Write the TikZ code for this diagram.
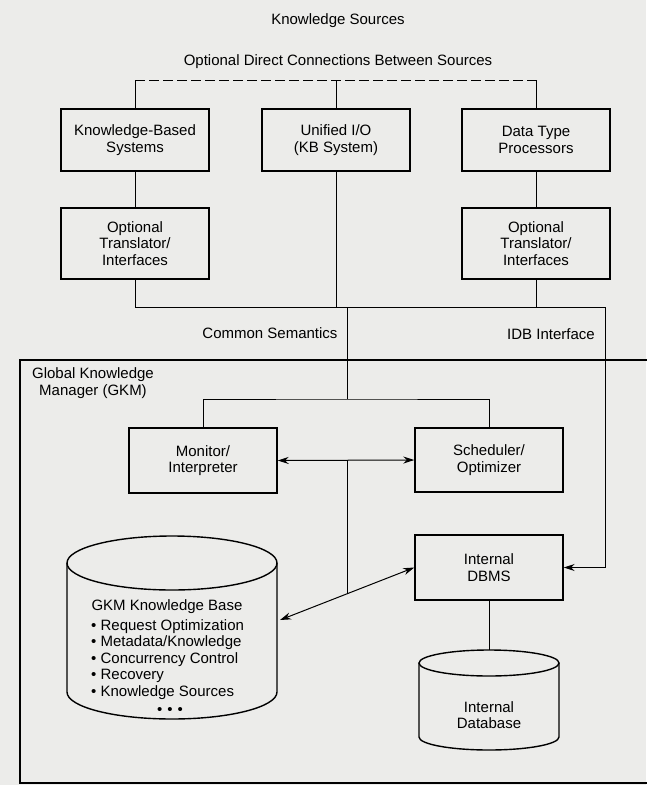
\documentclass[tikz,border=0pt]{standalone}
\usepackage{fontspec}
\setmainfont{Liberation Sans}
\usepackage{xcolor}
\usepackage{tikz}
\usetikzlibrary{positioning,calc,arrows.meta}

\definecolor{paper}{RGB}{236,236,234}

\begin{document}
\begin{tikzpicture}[x=1pt, y=-1pt,
    box/.style={draw, line width=1.4pt, minimum width=148pt, inner sep=0pt, align=center, font=\fontsize{15}{16.5}\selectfont},
    lbl/.style={align=center, inner sep=0pt, font=\fontsize{15}{16.5}\selectfont},
    rim/.style={line width=1.4pt},
    link/.style={line width=1pt},
    arrow/.style={{Stealth[length=11pt,width=7pt]}-{Stealth[length=11pt,width=7pt]}, line width=1pt}
]
\fill[paper] (0,0) rectangle (646,785);
\useasboundingbox (0,0) rectangle (646,785);

% knowledge sources
\node[lbl] (ks)   at (338,21)  {Knowledge Sources};
\node[lbl] (odc)  at (338,62)  {Optional Direct Connections Between Sources};
\node[box, minimum height=62pt] (kbs) at (135,140) {Knowledge-Based\\Systems};
\node[box, minimum height=62pt] (uio) at (336,140) {Unified I/O\\(KB System)};
\node[box, minimum height=62pt] (dtp) at (536,140) {Data Type\\Processors};
\node[box, minimum height=71pt] (trl) at (135,243.5) {Optional\\Translator/\\Interfaces};
\node[box, minimum height=71pt] (trr) at (536,243.5) {Optional\\Translator/\\Interfaces};
\node[lbl] (cs)   at (270,333) {Common Semantics};
\node[lbl] (idb)  at (551,334) {IDB Interface};

% global knowledge manager
\draw[rim] (650,360) -- (20,360) -- (20,783) -- (650,783);
\node[lbl] (gkm)  at (93,383)  {Global Knowledge\\Manager (GKM)};
\node[box, minimum height=65pt] (mon)  at (203,460.5) {Monitor/\\Interpreter};
\node[box, minimum height=64pt] (sch)  at (489,460)   {Scheduler/\\Optimizer};
\node[box, minimum height=65pt] (dbms) at (489,567.5) {Internal\\DBMS};

% GKM knowledge base cylinder
\draw[rim] (172,563) ellipse [x radius=105, y radius=27];
\draw[rim] (67,563) -- (67,692) arc[start angle=180, end angle=0, x radius=105, y radius=27] -- (277,563);
\node[lbl] (kbtitle) at (167,607) {GKM Knowledge Base};
\node[lbl, align=left, anchor=north west] (kblist) at (91,619)
  {\textbullet\ Request Optimization\\\textbullet\ Metadata/Knowledge\\\textbullet\ Concurrency Control\\\textbullet\ Recovery\\\textbullet\ Knowledge Sources};
\node[lbl] (kbdots) at (170,711) {\textbullet\hspace{5pt}\textbullet\hspace{5pt}\textbullet};

% internal database cylinder
\draw[rim] (489,663) ellipse [x radius=70, y radius=13];
\draw[rim] (419,663) -- (419,737) arc[start angle=180, end angle=0, x radius=70, y radius=13] -- (559,663);
\node[lbl] (idbase) at (489,715) {Internal\\Database};

% connectors
\coordinate (top) at (336,80);
\coordinate (bus) at (347,307);
\coordinate (idbcorner) at (605,307);
\coordinate (fork) at (347,399);
\coordinate (kbport) at (280,620);
\coordinate (dbtop) at (489,650);
\coordinate (tap) at ($(kbport)!0.5!(dbms.west)$);

\draw[link, dash pattern=on 10pt off 4pt] (kbs.north |- top) -- (dtp.north |- top);
\draw[link] (kbs.north) -- (kbs.north |- top);
\draw[link] (uio.north) -- (top);
\draw[link] (dtp.north) -- (dtp.north |- top);
\draw[link] (kbs) -- (trl);
\draw[link] (dtp) -- (trr);
\draw[link, -{Stealth[length=11pt,width=7pt]}] (trl.south) |- (idbcorner) |- (dbms.east);
\draw[link] (uio.south) -- (uio.south |- bus);
\draw[link] (trr.south) -- (trr.south |- bus);
\draw[link] (bus) -- (fork);
\draw[link] (mon.north) |- (fork) -| (sch.north);
\draw[arrow] (mon.east) -- (sch.west);
\draw[arrow] (kbport) -- (dbms.west);
\draw[link] (tap |- mon.east) -- (tap);
\draw[link] (dbms.south) -- (dbtop);
\end{tikzpicture}
\end{document}
